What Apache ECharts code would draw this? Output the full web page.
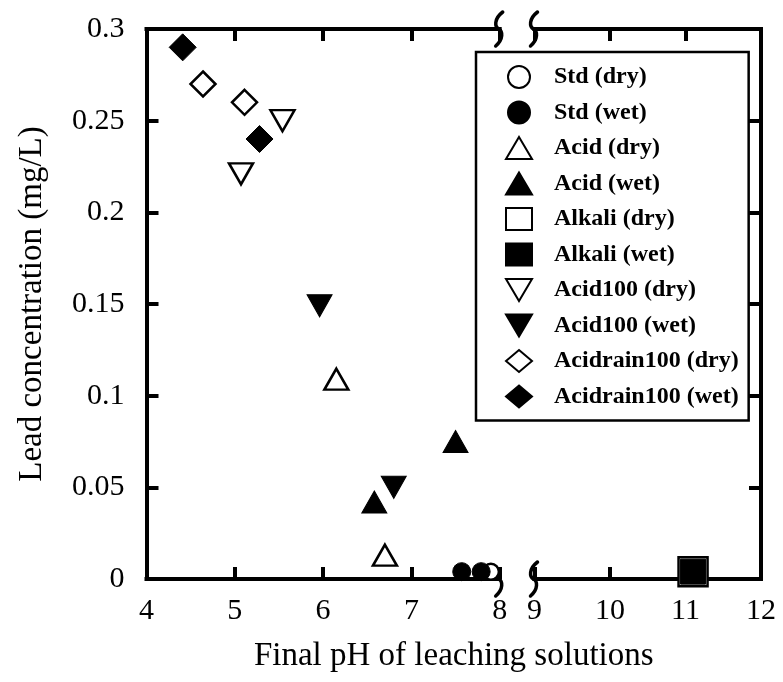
<!DOCTYPE html>
<html><head><meta charset="utf-8">
<script src="https://cdn.jsdelivr.net/npm/echarts@6/dist/echarts.min.js"></script>
<style>html,body{margin:0;padding:0;background:#fff}#c{width:783px;height:682px}</style>
</head><body><div id="c"></div>
<script>
// ---- data ----
const xTicksLeft = [4, 5, 6, 7, 8];
const xTicksRight = [9, 10, 11, 12];
const yTicks = [0, 0.05, 0.1, 0.15, 0.2, 0.25, 0.3];
const xTitle = 'Final pH of leaching solutions';
const yTitle = 'Lead concentration (mg/L)';
const stdDry = [[7.90, 0.004]];
const stdWet = [[7.57, 0.004], [7.79, 0.004]];
const acidDry = [[6.15, 0.109], [6.70, 0.013]];
const acidWet = [[6.58, 0.042], [7.50, 0.075]];
const alkaliDry = [[11.1, 0.004]];
const alkaliWet = [[11.1, 0.004]];
const acid100Dry = [[5.54, 0.250], [5.07, 0.221]];
const acid100Wet = [[5.96, 0.149], [6.80, 0.050]];
const acidrainDry = [[4.64, 0.270], [5.11, 0.260]];
const acidrainWet = [[4.41, 0.290], [5.28, 0.240]];

// ---- layout ----
const FONT = "'Liberation Serif','Times New Roman',serif";
const L0 = 146.5, R0 = 499.7, L1 = 534.5, R1 = 761, T = 29, B = 579;

const lineSty = { color: '#000', width: 4, cap: 'square' };
const tickSty = { show: true, inside: true, length: 12, lineStyle: { color: '#000', width: 4 } };
const lblSty = { fontFamily: FONT, fontSize: 30, color: '#000' };

function xAxis(grid, ticks, pos, labels) {
  return {
    type: 'value', gridIndex: grid, position: pos,
    min: ticks[0], max: ticks[ticks.length - 1], interval: 1,
    axisLine: { show: true, onZero: false, lineStyle: lineSty },
    axisTick: tickSty,
    axisLabel: Object.assign({ show: labels, margin: 17, showMinLabel: true, showMaxLabel: true }, lblSty),
    splitLine: { show: false }
  };
}

const open = { color: '#fff', borderColor: '#000', borderWidth: 2.5, opacity: 1 };
const fill = { color: '#000', borderColor: '#000', borderWidth: 1, opacity: 1 };
function ser(name, data, symbol, size, style, grid, extra) {
  return Object.assign({
    name, type: 'scatter', data, symbol, symbolSize: size, itemStyle: style,
    xAxisIndex: grid === 0 ? 0 : 2, yAxisIndex: grid === 0 ? 0 : 1,
    clip: false, emphasis: { disabled: true }
  }, extra || {});
}

const series = [
  ser('Std (dry)', stdDry, 'circle', 16, open, 0, { clip: true }),
  ser('Std (wet)', stdWet, 'circle', 18, fill, 0),
  ser('Acid (dry)', acidDry, 'triangle', [24, 21], open, 0),
  ser('Acid (wet)', acidWet, 'triangle', [25, 22], fill, 0),
  ser('Alkali (dry)', alkaliDry, 'rect', 29, open, 1),
  ser('Alkali (wet)', alkaliWet, 'rect', 25, fill, 1),
  ser('Acid100 (dry)', acid100Dry, 'triangle', [24, 21], open, 0, { symbolRotate: 180 }),
  ser('Acid100 (wet)', acid100Wet, 'triangle', [25, 22], fill, 0, { symbolRotate: 180 }),
  ser('Acidrain100 (dry)', acidrainDry, 'diamond', 25, open, 0),
  ser('Acidrain100 (wet)', acidrainWet, 'diamond', 27, fill, 0)
];
const downTri = 'path://M0,0L26,0L13,22Z';
const legendData = series.map(s => s.symbolRotate ? { name: s.name, icon: downTri } : { name: s.name });

const chart = echarts.init(document.getElementById('c'), null, { renderer: 'canvas' });
chart.setOption({
  animation: false,
  backgroundColor: '#fff',
  grid: [
    { left: L0, top: T, width: R0 - L0, height: B - T },
    { left: L1, top: T, width: R1 - L1, height: B - T }
  ],
  xAxis: [
    xAxis(0, xTicksLeft, 'bottom', true),
    xAxis(0, xTicksLeft, 'top', false),
    xAxis(1, xTicksRight, 'bottom', true),
    xAxis(1, xTicksRight, 'top', false)
  ],
  yAxis: [
    {
      type: 'value', gridIndex: 0, position: 'left',
      min: yTicks[0], max: yTicks[yTicks.length - 1], interval: 0.05,
      axisLine: { show: true, onZero: false, lineStyle: lineSty },
      axisTick: tickSty,
      axisLabel: Object.assign({ margin: 22, showMinLabel: true, showMaxLabel: true }, lblSty),
      splitLine: { show: false },
      name: yTitle, nameLocation: 'middle', nameGap: 98, nameRotate: 90,
      nameTextStyle: { fontFamily: FONT, fontSize: 33, color: '#000' }
    },
    {
      type: 'value', gridIndex: 1, position: 'right',
      min: yTicks[0], max: yTicks[yTicks.length - 1], interval: 0.05,
      axisLine: { show: true, onZero: false, lineStyle: lineSty },
      axisTick: tickSty,
      axisLabel: { show: false },
      splitLine: { show: false }
    }
  ],
  legend: {
    orient: 'vertical', left: 476, top: 52,
    padding: [13, 10, 12, 29], itemGap: 11.5, itemWidth: 26, itemHeight: 22,
    borderColor: '#000', borderWidth: 2.5, backgroundColor: '#fff',
    selectedMode: false,
    textStyle: { fontFamily: FONT, fontWeight: 'bold', fontSize: 24, lineHeight: 24, color: '#000', padding: [0, 0, 0, 17] },
    data: legendData
  },
  series
});

// break marks and x-axis title (positions from the axes)
const xb8 = chart.convertToPixel({ xAxisIndex: 0 }, xTicksLeft[xTicksLeft.length - 1]);
const xb9 = chart.convertToPixel({ xAxisIndex: 2 }, xTicksRight[0]);
const xMin = chart.convertToPixel({ xAxisIndex: 0 }, xTicksLeft[0]);
const xMax = chart.convertToPixel({ xAxisIndex: 2 }, xTicksRight[xTicksRight.length - 1]);
const yTop = chart.convertToPixel({ yAxisIndex: 0 }, yTicks[yTicks.length - 1]);
const yBot = chart.convertToPixel({ yAxisIndex: 0 }, yTicks[0]);
const brkStyle = { stroke: '#000', lineWidth: 3.5, lineCap: 'round', fill: null };
function squiggle(x, y, upper) {
  const out = [];
  if (upper) out.push({ type: 'bezierCurve', z: 1, shape: { x1: x + 4, y1: y - 17, cpx1: x - 5, cpy1: y - 10, cpx2: x - 4, cpy2: y - 2, x2: x, y2: y }, style: brkStyle });
  out.push({ type: 'bezierCurve', z: 1, shape: { x1: x, y1: y, cpx1: x + 4, cpy1: y + 2, cpx2: x + 5, cpy2: y + 10, x2: x - 3, y2: y + 17 }, style: brkStyle });
  return out;
}
chart.setOption({
  graphic: [].concat(
    squiggle(xb8 - 1, yTop, true), squiggle(xb9 - 1, yTop, true),
    squiggle(xb8 - 1, yBot, false), squiggle(xb9 - 1, yBot, true),
    [{
      type: 'text', x: (xMin + xMax) / 2, y: 640, z: 5,
      style: { text: xTitle, textAlign: 'center', textVerticalAlign: 'top', font: '33px ' + FONT, fill: '#000' }
    }]
  )
});
</script>
</body></html>
